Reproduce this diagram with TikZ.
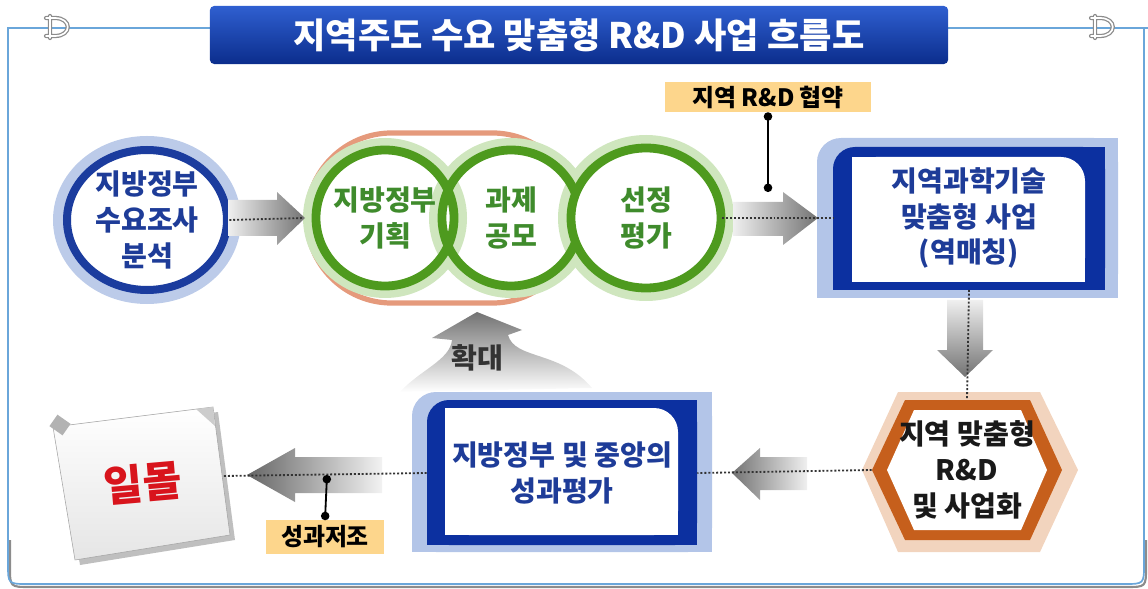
\documentclass[tikz,border=0pt]{standalone}
\usepackage{fontspec}
\setmainfont{Noto Sans CJK KR}
\usetikzlibrary{shapes.misc,arrows.meta}

\definecolor{frameblue}{HTML}{6AA6DA}
\definecolor{titletop}{HTML}{2F5FD0}
\definecolor{titlebot}{HTML}{0B2D8C}
\definecolor{ringblue}{HTML}{1B3C9E}
\definecolor{haloblue}{HTML}{BCCBE9}
\definecolor{txtblue}{HTML}{1E3C98}
\definecolor{ringgreen}{HTML}{4E9A1E}
\definecolor{halogreen}{HTML}{CFE6BE}
\definecolor{txtgreen}{HTML}{3F8B2C}
\definecolor{capline}{HTML}{E59A7C}
\definecolor{notefill}{HTML}{FDD68C}
\definecolor{boxpale}{HTML}{B3C5E8}
\definecolor{boxdark}{HTML}{0C30A0}
\definecolor{hexpale}{HTML}{F2D4BE}
\definecolor{hexorange}{HTML}{C65F1C}
\definecolor{sunsetred}{HTML}{D8141C}

\tikzset{
  frameline/.style={draw=frameblue, line width=1.2pt},
  frameshadow/.style={draw=black!45, line width=1.5pt},
  clipouter/.style={draw=black!45, line width=3pt, line cap=round},
  clipinner/.style={draw=white, line width=1.2pt, line cap=round},
  titlebox/.style={top color=titletop, bottom color=titlebot, rounded corners=3pt,
    text=white, font=\bfseries\fontsize{25}{28}\selectfont},
  bigtxt/.style={font=\bfseries\fontsize{20}{25.5}\selectfont, align=center, inner sep=0pt},
  notebox/.style={fill=notefill, font=\bfseries\fontsize{17}{20}\selectfont, inner sep=0pt},
  arrowfill/.style={left color=black!6, right color=black!55},
  dotline/.style={draw=black!80, line width=1.3pt, dash pattern=on 1.4pt off 1.4pt},
  tieline/.style={draw=black, line width=1.3pt, {Circle[length=6pt]}-{Circle[length=6pt]}},
}

\begin{document}
\begin{tikzpicture}[x=0.025cm, y=-0.025cm]
\useasboundingbox (0,0) rectangle (1148,589);

% outer frame with rings
\draw[frameshadow] (10,540) -- (10,567) .. controls (10,587) .. (30,587) -- (1126,587) .. controls (1146,587) .. (1146,567) -- (1146,540);
\draw[frameline] (1148,28) -- (8,28) -- (8,564) .. controls (8,584) .. (28,584) -- (1124,584) .. controls (1144,584) .. (1144,564) -- (1144,28);
\foreach \cx in {55,1100} {
  \draw[clipouter] (\cx-5,16) -- (\cx-5,38) (\cx-9,18) -- (\cx,18) .. controls (\cx+17,18) and (\cx+17,36) .. (\cx,36) -- (\cx-9,36);
  \draw[clipinner] (\cx-5,16) -- (\cx-5,38) (\cx-9,18) -- (\cx,18) .. controls (\cx+17,18) and (\cx+17,36) .. (\cx,36) -- (\cx-9,36);
}

\node[titlebox, minimum width=18.45cm, minimum height=1.45cm] (title) at (579,35) {지역주도 수요 맞춤형 R\&D 사업 흐름도};

% demand survey circle
\draw[haloblue, line width=0.3cm] (147,220) ellipse [x radius=88, y radius=78];
\draw[ringblue, line width=0.2cm, fill=white] (147,220) ellipse [x radius=80, y radius=70];
\node[bigtxt, text=txtblue, minimum width=4.1cm, minimum height=3.6cm] (need) at (147,220) {지방정부\\수요조사\\분석};

% planning capsule and the three green circles
\node[rounded rectangle, draw=capline, line width=0.13cm, minimum width=7cm, minimum height=4.25cm] (plan) at (442,218) {};
\draw[halogreen, line width=0.25cm] (385,218) ellipse [x radius=77, y radius=75];
\draw[halogreen, line width=0.25cm] (511,218) ellipse [x radius=77, y radius=75];
\draw[halogreen, line width=0.25cm] (646,218) ellipse [x radius=83, y radius=78];
\draw[ringgreen, line width=0.22cm] (385,218) ellipse [x radius=69, y radius=68];
\draw[ringgreen, line width=0.22cm] (511,218) ellipse [x radius=69, y radius=68];
\draw[ringgreen, line width=0.22cm, fill=white] (646,218) ellipse [x radius=75, y radius=70];
\node[bigtxt, text=txtgreen, minimum width=3.5cm] (gplan) at (385,218) {지방정부\\기획};
\node[bigtxt, text=txtgreen, minimum width=3.5cm] (gcall) at (511,218) {과제\\공모};
\node[bigtxt, text=txtgreen, minimum width=3.8cm] (gsel) at (646,218) {선정\\평가};

\shade[arrowfill] (228,200) -- (277,200) -- (277,192) -- (305,218) -- (277,245) -- (277,236) -- (228,236) -- cycle;
\draw[dotline] (need.east) -- (plan.west);

% regional agreement
\node[notebox, minimum width=5.125cm, minimum height=0.75cm] (pact) at (768,97) {지역 R\&D 협약};
\shade[arrowfill] (733,202) -- (783,202) -- (783,192) -- (818,218) -- (783,245) -- (783,236) -- (733,236) -- cycle;
\coordinate (pactdot) at (768,192);
\draw[tieline] (pact.south) -- (pactdot);

% regional science business box
\fill[boxpale, rounded corners=0.6cm] (817,138) rectangle (1118,298);
\fill[boxpale] (840,138) rectangle (1118,298);
\fill[boxpale] (817,170) rectangle (1118,298);
\fill[boxdark, rounded corners=0.55cm] (833,147) rectangle (1105,290);
\fill[boxdark] (856,147) rectangle (1105,290);
\fill[boxdark] (833,170) rectangle (1105,290);
\fill[white, rounded corners=0.6cm] (852,157) rectangle (1085,282);
\fill[white] (852,157) rectangle (1060,282);
\fill[white] (852,182) rectangle (1085,282);
\node[bigtxt, text=txtblue, minimum width=6.8cm, minimum height=3.575cm] (biz) at (969,218) {지역과학기술\\맞춤형 사업\\(역매칭)};
\draw[dotline] (gsel.east) -- (biz.west);

% down to R&D hexagon
\shade[top color=black!6, bottom color=black!55] (947,300) -- (983,300) -- (983,350) -- (993,350) -- (965,377) -- (937,350) -- (947,350) -- cycle;
\fill[hexpale] (862,470) -- (898,392) -- (1040,392) -- (1078,470) -- (1040,552) -- (898,552) -- cycle;
\fill[hexorange] (872,470) -- (905,400) -- (1030,400) -- (1062,470) -- (1030,540) -- (905,540) -- cycle;
\fill[white] (887,470) -- (914,410) -- (1021,410) -- (1047,470) -- (1021,530) -- (914,530) -- cycle;
\node[bigtxt, text=black!90, minimum width=4.75cm, minimum height=3.5cm] (rnd) at (967,470) {지역 맞춤형\\R\&D\\및 사업화};
\draw[dotline] (biz.south) -- (rnd.north);

% evaluation box
\shade[left color=black!55, right color=black!6] (732,473) -- (760,448) -- (760,457) -- (807,457) -- (807,490) -- (760,490) -- (760,500) -- cycle;
\fill[boxpale, rounded corners=0.6cm] (412,392) rectangle (712,552);
\fill[boxpale] (435,392) rectangle (712,552);
\fill[boxpale] (412,420) rectangle (712,552);
\fill[boxdark, rounded corners=0.55cm] (427,400) rectangle (697,545);
\fill[boxdark] (450,400) rectangle (697,545);
\fill[boxdark] (427,425) rectangle (697,545);
\fill[white, rounded corners=0.6cm] (445,408) rectangle (678,535);
\fill[white] (445,408) rectangle (653,535);
\fill[white] (445,433) rectangle (678,535);
\node[bigtxt, text=txtblue, minimum width=6.75cm, minimum height=3.625cm] (eval) at (562,473) {지방정부 및 중앙의\\성과평가};
\draw[dotline] (rnd.west) -- (eval.east);

% expansion arrow back to planning
\shade[top color=black!55, bottom color=white] (477,312) -- (522,330) -- (508,335) .. controls (515,360) and (560,350) .. (592,388) -- (400,392) .. controls (420,370) and (450,360) .. (452,340) -- (432,338) -- cycle;
\node[bigtxt, text=black!80] (grow) at (477,358) {확대};

% sunset sheet
\fill[black!25] (58,432) -- (218,412) -- (235,540) -- (80,565) -- cycle;
\shade[top color=white, bottom color=black!10, draw=black!35] (53,427) -- (213,407) -- (230,535) -- (75,560) -- cycle;
\fill[black!20] (196,409) -- (213,407) -- (215,426) -- cycle;
\fill[black!30, rotate around={-35:(60,425)}] (52,418) rectangle (68,432);
\node[font=\bfseries\fontsize{30}{33}\selectfont, text=sunsetred, minimum width=4cm, rotate=5] (sunset) at (143,483) {일몰};
\shade[left color=black!60, right color=black!5] (247,475) -- (295,448) -- (295,457) -- (382,457) -- (382,493) -- (295,493) -- (295,502) -- cycle;
\draw[dotline] (eval.west) -- (sunset.east);
\node[notebox, minimum width=2.95cm, minimum height=0.825cm] (poor) at (325,537) {성과저조};
\coordinate (lowdot) at (327,475);
\draw[tieline] (lowdot) -- (poor.north);
\end{tikzpicture}
\end{document}
